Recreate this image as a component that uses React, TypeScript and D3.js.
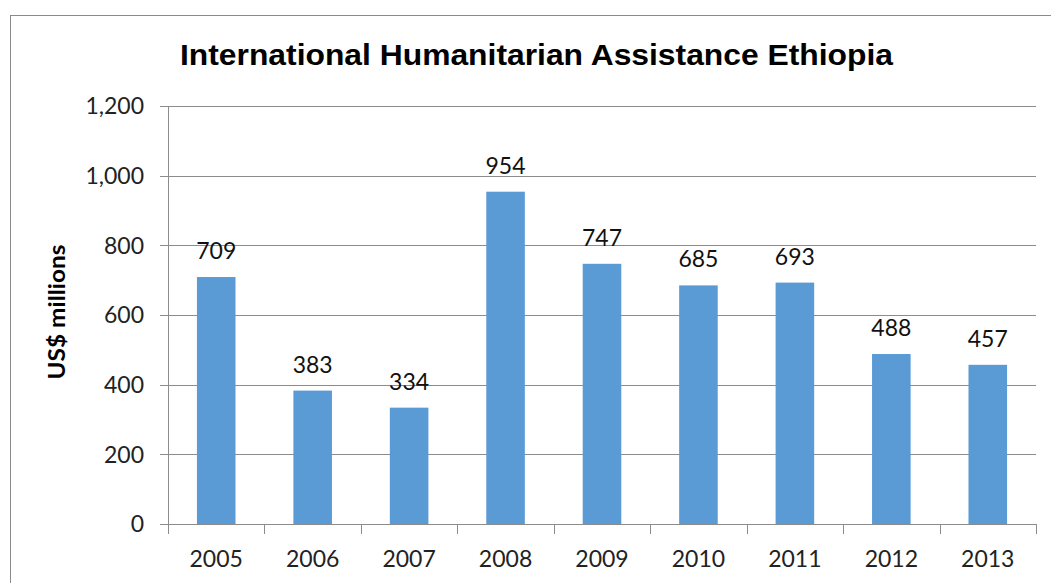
import React, { useEffect, useRef } from "react";
import * as d3 from "d3";

const years = ["2005", "2006", "2007", "2008", "2009", "2010", "2011", "2012", "2013"];
const values = [709, 383, 334, 954, 747, 685, 693, 488, 457];
const yTicks = [0, 200, 400, 600, 800, 1000, 1200];
const titleText = "International Humanitarian Assistance Ethiopia";
const yTitle = "US$ millions";

const W = 1051;
const H = 583;
const plot = { left: 168, right: 1036, top: 106, bottom: 524 };

export default function App() {
  const ref = useRef<SVGSVGElement>(null);

  useEffect(() => {
    const svg = d3.select(ref.current);
    svg.selectAll("*").remove();

    const x = d3.scaleBand<string>().domain(years).range([plot.left, plot.right]).paddingInner(0.6).paddingOuter(0.3);
    const xOuter = d3.scaleBand<string>().domain(years).range([plot.left, plot.right]);
    const y = d3.scaleLinear().domain([0, 1200]).range([plot.bottom, plot.top]);

    const gridColor = "#8c8c8c";
    const numFont = "Lato, 'Open Sans', sans-serif";

    // outer border
    svg.append("rect")
      .attr("x", 10.5).attr("y", 15.5)
      .attr("width", W + 20).attr("height", H + 20)
      .attr("fill", "white").attr("stroke", "#8a8a8a").attr("stroke-width", 1);

    // title
    svg.append("text")
      .attr("x", 536.5).attr("y", 65)
      .attr("text-anchor", "middle")
      .attr("font-family", "'Liberation Sans', Arial, sans-serif")
      .attr("font-weight", "bold")
      .attr("font-size", 30)
      .attr("textLength", 713)
      .attr("lengthAdjust", "spacingAndGlyphs")
      .attr("fill", "#000")
      .text(titleText);

    // gridlines
    svg.append("g").selectAll("line").data(yTicks).join("line")
      .attr("x1", plot.left - 8).attr("x2", plot.right)
      .attr("y1", d => Math.round(y(d)) + 0.5).attr("y2", d => Math.round(y(d)) + 0.5)
      .attr("stroke", gridColor).attr("stroke-width", 1);

    // y axis line
    svg.append("line")
      .attr("x1", plot.left + 0.5).attr("x2", plot.left + 0.5)
      .attr("y1", plot.top).attr("y2", plot.bottom)
      .attr("stroke", gridColor);

    // x ticks at category boundaries
    const bounds = years.map(d => xOuter(d) as number).concat([plot.right]);
    svg.append("g").selectAll("line").data(bounds).join("line")
      .attr("x1", d => Math.round(d) + 0.5).attr("x2", d => Math.round(d) + 0.5)
      .attr("y1", plot.bottom).attr("y2", plot.bottom + 10)
      .attr("stroke", gridColor);

    // y tick labels
    svg.append("g").selectAll("text").data(yTicks).join("text")
      .attr("x", 144).attr("y", d => y(d))
      .attr("dy", "0.36em")
      .attr("text-anchor", "end")
      .attr("font-family", numFont)
      .attr("font-size", 23)
      .attr("fill", "#222")
      .text(d => d3.format(",")(d));

    // bars
    svg.append("g").selectAll("rect").data(values).join("rect")
      .attr("x", (d, i) => x(years[i]) as number)
      .attr("y", d => y(d))
      .attr("width", x.bandwidth())
      .attr("height", d => y(0) - y(d))
      .attr("fill", "#5B9BD5");

    // data labels
    svg.append("g").selectAll("text").data(values).join("text")
      .attr("x", (d, i) => (x(years[i]) as number) + x.bandwidth() / 2)
      .attr("y", d => y(d) - 18)
      .attr("text-anchor", "middle")
      .attr("font-family", numFont)
      .attr("font-size", 23)
      .attr("fill", "#111")
      .text(d => String(d));

    // x labels
    svg.append("g").selectAll("text").data(years).join("text")
      .attr("x", d => (xOuter(d) as number) + xOuter.bandwidth() / 2)
      .attr("y", 567)
      .attr("text-anchor", "middle")
      .attr("font-family", numFont)
      .attr("font-size", 23)
      .attr("fill", "#222")
      .text(d => d);

    // y title
    svg.append("text")
      .attr("transform", `translate(65, 312) rotate(-90)`)
      .attr("text-anchor", "middle")
      .attr("font-family", numFont)
      .attr("font-weight", "bold")
      .attr("font-size", 22)
      .attr("textLength", 135)
      .attr("lengthAdjust", "spacingAndGlyphs")
      .attr("fill", "#000")
      .text(yTitle);
  }, []);

  return (
    <svg
      ref={ref}
      width={W}
      height={H}
      style={{ position: "absolute", left: 0, top: 0, background: "white" }}
    />
  );
}
